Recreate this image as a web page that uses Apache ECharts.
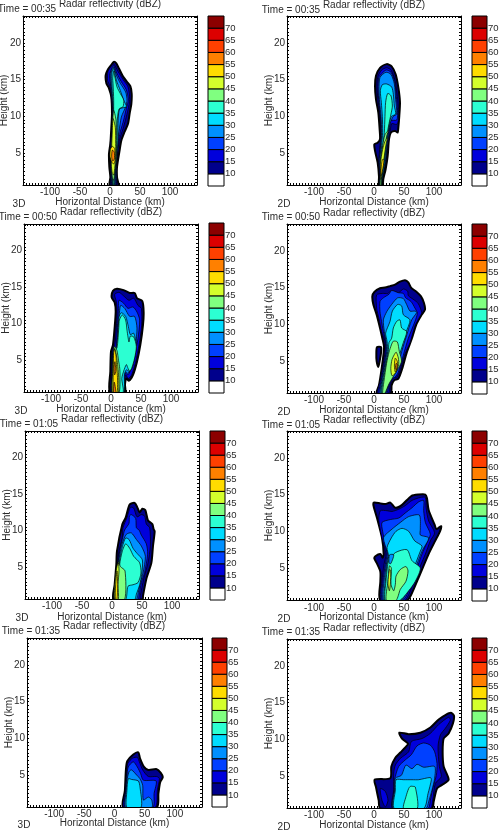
<!DOCTYPE html>
<html>
<head>
<meta charset="utf-8">
<title>Radar reflectivity cross sections</title>
<style>html,body{margin:0;padding:0;background:#fff}#chart{width:504px;height:833px}</style>
<script src="https://cdn.jsdelivr.net/npm/echarts@6/dist/echarts.min.js"></script>
</head>
<body>
<div id="chart"></div>
<script>
// Colour classes of the reflectivity scale (dBZ lower bound -> fill)
const levels = [5, 10, 15, 20, 25, 30, 35, 40, 45, 50, 55, 60, 65, 70];
const levelColors = ['#ffffff', '#00008c', '#0000dc', '#0040ff', '#0090ff', '#00dcff', '#2cffd2',
  '#80ff80', '#d4ff2c', '#ffdc00', '#ff8000', '#ff4000', '#dc0000', '#8c0000'];
const scaleLabels = [10, 15, 20, 25, 30, 35, 40, 45, 50, 55, 60, 65, 70];
const xTickLabels = [-100, -50, 0, 50, 100];
const yTickLabels = [5, 10, 15, 20];

// Filled contours: [dBZ level, [[distance km, height km], ...]], painted in order
const contours3D0035 = [
  [10, [[6.1,17.4],[10.6,17.2],[15,16.5],[20.6,15.6],[28.3,14.7],[33.9,14.1],[36.1,13.1],[35.6,11.7],[32.8,10.4],[30,9],[24.4,7.9],[18.9,6.7],[16.1,5.4],[11.7,3.1],[11.7,1.7],[13.9,0.6],[-0.6,0.6],[0.6,1.7],[-1.1,3.1],[-1.7,4.9],[0.6,6.3],[2.2,8.5],[3.3,10.4],[2.2,12.6],[-1.7,13.8],[-6.1,14.5],[-7.2,15.6],[-3.3,16.4],[2.2,17]]],
  [15, [[6.1,17.1],[13.3,16.1],[21.7,15],[30,14],[32.8,12.3],[30,10.9],[26.1,9.6],[21.7,8.3],[16.1,6.9],[13.3,5.5],[10.6,3.2],[10.6,0.6],[2.2,0.6],[1.1,3.2],[0,5.8],[3.3,8.5],[3.9,10.4],[2.2,12.6],[-0.6,14.2],[-3.9,14.9],[-3.3,16.1],[2.2,16.8]]],
  [20, [[6.1,16.9],[11.7,15.8],[18.9,14.7],[27.2,13.6],[30.6,12.2],[27.2,11.1],[22.8,9.5],[17.2,7.9],[13.3,6.3],[10.6,3.2],[9.4,0.6],[3.3,0.6],[2.2,3.2],[1.1,5.8],[3.9,8.5],[4.4,10.4],[3.3,12.6],[0.6,14.5],[-0.6,15.6],[2.8,16.5]]],
  [25, [[6.1,16.7],[10.6,15.6],[17.2,14.5],[26.1,13.3],[28.3,12.2],[26.1,11.3],[18.9,9.9],[15,7.9],[11.7,6.3],[9.4,3.2],[8.3,0.6],[3.9,0.6],[2.8,3.2],[1.7,5.8],[5,8.5],[5.6,10.4],[3.9,12.6],[1.7,14.5],[1.1,15.6],[3.3,16.4]]],
  [30, [[6.1,16.5],[10.6,14.9],[17.2,13.5],[22.8,12.2],[27.2,11.3],[16.1,11],[13.3,9],[13.3,6.7],[10.6,4],[8.3,2.2],[7.2,0.6],[4.4,0.6],[3.9,4],[2.8,5.8],[5.6,8.5],[6.1,10.4],[4.4,12.6],[2.8,14.9],[3.3,16]]],
  [35, [[6.5,16.2],[7.8,15.5],[11.7,14],[17.2,13.1],[22.8,12.2],[21.7,11.3],[15,11],[11.7,9],[11.7,6.7],[9.4,4],[7.2,2.2],[6.1,0.6],[5,0.6],[5,4],[3.3,5.8],[5.6,8.5],[6.1,12.2],[5,14.5],[4.5,15.2]]],
  [40, [[6.1,10.8],[10,9.5],[10.6,6.7],[10.6,4.5],[8.3,2.6],[6.1,1.3],[3.9,1.7],[2.2,3.5],[2.8,5.8],[3.9,8.5]]],
  [45, [[5,9.7],[8.9,8.5],[9.4,6.3],[9.4,4.5],[7.8,2.9],[6.1,2],[3.9,2.2],[2.2,3.5],[2.8,5.8],[3.9,8.1]]],
  [50, [[3.9,5.9],[7.8,5.6],[8.3,4],[6.1,3.5],[2.8,3.8],[0,4.5],[0.6,5.5]]],
  [55, [[3.9,5.4],[7.2,5.1],[7.2,4.2],[4.4,3.9],[2.8,4.5]]]
];

const contours2D0035 = [
  [10, [[21.1,17.1],[29.4,16.8],[36.1,15.7],[40.6,13.9],[43.3,11.9],[42.2,10.1],[40.6,8.5],[39.4,7.8],[35,8],[28.3,7.8],[25,6.9],[22.8,4.6],[19.4,2.8],[15.6,1.5],[13.9,0.6],[8.3,0.6],[8.3,1.8],[6.1,3.7],[1.7,5.3],[0.6,6.2],[6.1,6.4],[10,6.9],[9.4,8.2],[7.2,10.5],[3.3,12.3],[1.7,14.1],[3.3,15.5],[10,16.6]]],
  [15, [[21.1,16.6],[28.3,16.3],[35,14.9],[38.3,13.1],[40.6,11.3],[40.6,9.5],[37.8,8.9],[29.4,9],[26.7,7.7],[22.8,6],[20.6,4.1],[17.2,2.8],[13.9,1.5],[11.7,0.6],[9.4,0.6],[9.4,1.8],[7.8,3.7],[10,6],[11.7,7.8],[10,10.1],[7.2,11.9],[5,13.7],[6.1,15.3],[12.8,16.3]]],
  [20, [[20.5,16.3],[28.3,16],[34.5,14.7],[37.2,12.7],[39.2,10.8],[38,9.5],[28,9.4],[25,7.5],[21,5],[18.5,3.4],[13.4,1.5],[11.1,0.6],[9.7,0.6],[10,2],[8.6,3.7],[10.8,6],[12.2,7.8],[10.8,10],[8.3,11.9],[6.6,13.7],[8,15.3],[14,15.9]]],
  [25, [[20,16],[28.3,15.7],[33.9,14.4],[36.1,12.3],[37.8,10.3],[32.2,10],[26.7,9],[22.8,6.9],[19.4,4.1],[16.1,2.8],[12.8,1.5],[10.6,0.6],[10,0.6],[10.6,2.3],[9.4,3.7],[11.7,6],[12.8,7.8],[11.7,10],[9.4,11.9],[8.3,13.7],[10,15.3]]],
  [30, [[21.1,14.4],[29.4,14],[32.2,13],[33.9,11.4],[36.1,10.3],[29.4,10],[25,9],[22.2,6.9],[19.4,5],[17.2,3.2],[13.9,1.6],[11.1,0.6],[10.6,0.6],[11.1,2.3],[10.6,3.7],[12.8,6],[14.4,7.8],[13.9,10],[12.2,11.9],[10.6,13.5],[13.9,14.3]]],
  [35, [[22.8,13.1],[28.3,12.8],[30.6,11.4],[28.3,10.3],[25,9],[21.7,7.5],[18.3,5.3],[15.6,3.2],[12.8,1.6],[12.2,0.6],[9.6,0.6],[10.6,2.3],[11.1,3.7],[15,6],[17.2,7.8],[18.3,10],[19.4,11.9]]],
  [40, [[24.4,8.1],[21.1,7.3],[17.8,5.3],[15,3.2],[12.2,1.4],[11.7,0.6],[10,0.6],[11.1,2],[11.7,3.7],[14.4,6],[18.3,7.5]]],
  [45, [[22.8,7.1],[20.6,6.4],[17.2,4.6],[14.4,2.8],[11.7,1.4],[11.1,2.3],[10.6,3.5],[14.4,5.5],[18.3,6.6]]],
  [50, [[16.7,4.1],[13.9,2.5],[11.7,1.9],[11.7,2.8],[13.9,4.1]]]
];

const contours3D0050 = [
  [10, [[3.3,14.5],[10,14.8],[21.1,14.6],[31.1,14.2],[39.4,14.2],[43.3,13.5],[52.2,13.1],[54.4,11.6],[53.3,9.8],[48.9,7.1],[43.3,4.8],[36.7,3],[30,2.2],[25.6,2.5],[23.3,1.7],[23.3,0.6],[-1.7,0.6],[-1.1,3.5],[0,6.2],[3.3,7.1],[6.1,9.5],[7.8,11.7],[6.1,12.9],[1.1,13.6]]],
  [15, [[6.1,14],[13.3,14.3],[21.1,13.8],[30,13.2],[37.8,13.5],[45,12.5],[50.6,12.1],[51.1,9.8],[46.7,7.1],[41.1,4.8],[34.4,3],[28.9,2.5],[24.4,3],[21.1,1.6],[21.1,0.6],[0.6,0.6],[1.1,3.5],[1.7,6.2],[6.1,6.9],[8.9,9.5],[10,11.7],[8.9,13]]],
  [20, [[13.3,13.2],[21.1,12.8],[28.3,12.1],[36.7,12.3],[43.3,11.6],[47.8,10.5],[45,8],[39.4,5.7],[33.9,3.9],[28.3,3],[24.4,3.2],[20,2.5],[20,0.6],[1.7,0.6],[2.2,3.5],[3.3,6.2],[8.9,6.9],[10.6,9.5],[12.2,11.7]]],
  [25, [[16.1,12.5],[22.8,12.1],[31.1,11],[39.4,11],[43.3,9.4],[41.1,7.1],[36.7,4.8],[32.2,3.7],[28.3,3.2],[24.4,3.4],[21.1,2.8],[20.5,0.6],[2.5,0.6],[3,3.5],[4,6.2],[10,6.9],[12,9.5],[13.5,11]]],
  [30, [[17.2,11.5],[24.4,11],[28.9,9.6],[32.2,8.5],[37.8,8.7],[42.2,7.1],[39.4,5.3],[35,3.9],[30,3.5],[25.6,3.7],[22.2,3],[21.1,0.6],[2.2,0.6],[2.8,3.5],[4.4,6.2],[8.9,6.7],[12.2,9.5],[13.3,10.9]]],
  [35, [[18.9,11.2],[24.4,10.5],[26.7,9.1],[28.3,8.2],[30,7.5],[32.2,8.3],[37.8,8.2],[42.2,6.9],[39.4,5.3],[34.4,3.9],[31.1,3.5],[28.3,3.9],[25.6,4.4],[21.1,3.5],[18,2.5],[20,0.6],[3,0.6],[3,3.5],[5,6.2],[10,6.7],[13,9.5],[14,10.5]]],
  [40, [[6,6.9],[10,6.3],[12.5,5],[14.5,3.9],[15,2.9],[13.5,0.6],[3,0.6],[2.8,3.5],[3.5,6]]],
  [45, [[6.1,6.6],[8.9,5.7],[11,4.4],[12.6,3],[13,2.2],[12,0.6],[2.2,0.6],[2.8,3.5],[4.4,6]]],
  [50, [[6.1,6.5],[8.5,5.5],[9,4.4],[10.4,3.2],[11,2],[10,0.6],[4,0.6],[3.5,2.1],[4,4.4],[4.4,6]]],
  [55, [[5.5,2],[8,0.6],[4.5,0.6]]],
  [55, [[6.5,4.8],[8,3.5],[6,3],[5,4]]]
];

const contours2D0050 = [
  [10, [[0.6,14.4],[10,14.9],[18.3,15],[26.7,15.2],[35,15.4],[43.3,15.8],[51.7,16],[57.2,15.7],[61.7,15],[71.1,14.4],[78.3,13.8],[83.3,12.9],[85,12],[79.4,11.3],[71.1,10.1],[62.8,8],[54.4,6.1],[47.2,4],[40.6,2.6],[33.9,2.4],[29.4,1.7],[27.8,0.6],[4.4,0.6],[8.3,1.7],[12.8,4],[16.1,6.1],[16.7,7],[13.9,8.1],[10,9.5],[4.4,11.3],[-1.1,12.7],[-2.8,13.8]]],
  [10, [[5,6.9],[11.7,6.9],[11.7,6.1],[9.4,5],[7.2,4.2],[4.4,5],[3.9,6.1]]],
  [15, [[4.4,14],[13.9,14.2],[22.8,14.2],[29.4,14.6],[40.6,14.3],[48.9,14.8],[56.1,14.5],[57.2,13.9],[67.2,13.3],[73.9,12.8],[79.4,11.6],[76.7,11.1],[68.3,9.8],[60,7.5],[51.7,6],[43.3,3.7],[37.8,2.8],[32.2,2.8],[26.7,1.7],[23.9,0.6],[6.1,0.6],[10,2.2],[15.6,4.7],[18.3,6.3],[18.3,7.7],[12.8,9],[8.3,10.8],[4.4,12.2]]],
  [20, [[10,13.1],[15.6,13.6],[25,14.1],[29.4,14.6],[40.6,14.3],[48.9,14.2],[52.8,13.6],[61.7,13.1],[68.3,12.2],[72.2,11.5],[68.3,10.4],[57.2,8.1],[48.9,5.8],[40.6,3.5],[35,2.8],[29.4,2.6],[25,1.7],[21.1,0.6],[8.3,0.6],[11.7,2.2],[17.2,4.7],[20,6.3],[19.4,7.7],[15.6,9],[11.7,10.8],[10,11.7]]],
  [25, [[15.6,10.6],[21.1,11.7],[29.4,12.7],[39.4,13.6],[48.9,13.5],[54.4,12.7],[60,11.8],[68.3,11.8],[71.1,11.6],[62.8,10.6],[54.4,8.5],[46.1,6.3],[38.9,4],[33.9,3.2],[28.3,3],[23.9,1.9],[19.4,0.6],[10,0.6],[12.8,2.2],[18.3,4.7],[21.1,6.3],[20,7.7],[17.2,9]]],
  [30, [[26.7,10.4],[30.6,11.8],[39.4,12.7],[46.1,12.5],[48.9,11.3],[60,10.6],[52.8,8.8],[43.3,6.3],[36.1,4],[32.2,3.3],[26.7,3.1],[22.8,1.9],[18.3,0.6],[11.7,0.6],[13.9,2.2],[19.4,4.7],[22.8,6.3],[21.7,7.7],[19.4,8.8]]],
  [35, [[29.4,8.1],[32.2,9.5],[37.8,10.4],[43.3,10.6],[46.1,9.5],[54.4,9],[48.9,7.5],[43.3,6.1],[36.1,4.3],[30.6,3.6],[25,3.1],[21.1,1.9],[17.2,0.6],[12.8,0.6],[15,2.2],[20.6,4.7],[23.9,6.3],[25,7.5]]],
  [40, [[32.2,7.7],[38.9,7.6],[42.2,6.3],[46,5],[40.6,4],[33.9,3.1],[25,1.9],[18,0.6],[14.4,0.6],[16.5,2.2],[21,4.7],[25,6.2],[29,7.2]]],
  [45, [[34,5.9],[37,6.2],[40.6,5.4],[41,4.5],[36,3.4],[30,3],[28,4],[30,5.2]]],
  [50, [[35.5,5.4],[39,4.9],[38,3.9],[35.5,3.5],[34,4.3],[34.5,5]]],
  [55, [[37,4.7],[38.8,4.5],[37.2,3.8],[35.6,4]]]
];

const contours3D0105 = [
  [10, [[37.8,13.8],[41.7,13.3],[46.1,12.5],[50.6,13],[55.6,12.8],[60,11.4],[67.2,10.9],[69.4,10.2],[71.1,9.9],[68.3,7.9],[65.6,5.6],[57.2,3.4],[51.7,1.1],[50.6,0.6],[2.8,0.6],[4.4,2.6],[7.2,5.4],[8.3,7.2],[17.2,10.9],[22.8,11.8],[29.4,13.6]]],
  [15, [[36.1,13.1],[41.7,11.9],[48.9,12.2],[54.4,12],[57.2,10.9],[62.8,10.4],[63.9,7.9],[60,5.6],[52.8,3.4],[47.2,1.1],[46.1,0.6],[4.4,0.6],[6.1,2.6],[8.9,5.4],[11.7,7.2],[17.2,9],[18.3,10.4],[25,11.8],[30.6,13.2]]],
  [20, [[32.2,12.2],[39.4,11.7],[40.6,10.4],[45,10.1],[48.9,9.4],[57.2,8.2],[59.4,6.8],[54.4,4.3],[48.9,2.9],[45,1.1],[43.3,0.6],[6.1,0.6],[7.2,2.6],[10,5.4],[12.8,7.2],[18.3,9.2],[21.1,10.1],[28.3,11],[29,12]]],
  [25, [[23.9,9.5],[32.2,9.7],[40.6,8.8],[48.9,7.9],[55.6,6.5],[51.7,4.2],[47.2,2.9],[42.8,1.1],[40.6,0.6],[7.2,0.6],[8.3,2.6],[10.6,5.4],[13.9,7.2],[17.2,8.3]]],
  [30, [[22.8,9],[28.3,8.8],[35,7.6],[41.7,6.9],[50.6,6],[49.4,4],[46.1,2.6],[40.6,1.3],[37.8,0.6],[8.3,0.6],[9.4,2.6],[11.7,5.4],[15,7],[18.3,8.1]]],
  [35, [[22.8,8.2],[29.4,7.6],[36.1,6.5],[46.1,5.6],[48.3,4.2],[43.3,2.9],[35,2.6],[26.7,2.4],[22.8,0.6],[9.4,0.6],[10.6,2.6],[12.8,5.4],[17.2,7.2]]],
  [40, [[11.1,5.8],[13.9,5.1],[21.7,4.5],[21.1,0.6],[4.4,0.6],[3.3,1.3],[6.1,3.5],[8.3,4.9]]],
  [45, [[10.6,5.6],[11.7,4.5],[10,2.6],[10.6,0.6],[4.4,0.6],[4.4,2.2],[6.1,4],[8.3,5.1]]],
  [50, [[8.3,4.5],[9.4,2.6],[8.3,0.6],[5.6,0.6],[6.1,2.6]]]
];

const contours2D0105 = [
  [10, [[-0.6,13.9],[10.6,13.8],[18.9,13.7],[27.2,13.9],[35.6,13.2],[46.7,13.6],[62.2,14.8],[74.4,15],[85.6,15],[88.3,14.5],[91.1,12.9],[101,10.9],[104,10.3],[112,10.7],[110,10],[102,8.7],[91,6.9],[74.4,3.7],[62.2,1.4],[55,0.6],[10.6,0.6],[10.6,3.2],[10.6,4.5],[5,5.6],[0.6,6.3],[2.2,6.6],[10.6,6.9],[14.4,6.4],[16.1,6.9],[13.3,9.1],[5,11.8],[-0.6,13.4]]],
  [15, [[10.6,12.8],[21.7,12.8],[30,12.7],[41.1,13],[52.2,13.5],[63.3,14.2],[77.2,14.6],[85.6,14.6],[86.7,13.2],[91.1,11.4],[101,9.8],[93.9,8.7],[85.6,6.9],[68.9,3.7],[57.8,1.4],[51.1,0.6],[12.2,0.6],[13.3,3.2],[16.7,5.5],[20,6.9],[13.3,9.1],[8,11.5]]],
  [20, [[13.3,11.2],[27.2,11.6],[41.1,11.8],[52.2,12.5],[63.3,13.2],[74.4,14],[82.8,14.2],[82.8,12.8],[85.6,11.2],[93.9,9.6],[88.3,8.5],[80,6.9],[66.1,3.7],[55,1.4],[47.8,0.6],[14.4,0.6],[15,3.2],[18.9,5.5],[21.7,6.9],[18.9,8.2],[14.4,10]]],
  [25, [[16.1,9.2],[30,10.3],[43.9,11.2],[57.8,12],[75.6,12.2],[77.2,10.3],[77.2,9.5],[91.1,9.1],[80,7.3],[63.3,3.7],[52.2,1.4],[45.6,0.6],[16.1,0.6],[16.7,3.2],[20.6,5.5],[23.3,6.9],[18.9,8]]],
  [30, [[21.7,7.8],[28.9,9.1],[36.7,10],[46.7,10.4],[57.8,10],[67.8,8.7],[80,8],[77.2,7.3],[62.2,4.1],[51.1,1.6],[43.9,0.6],[17.8,0.6],[18.9,3.2],[21.7,5.5],[24.4,6.6]]],
  [35, [[24.4,6],[35.6,7.1],[55,7.5],[63.3,6],[77.2,5],[68.9,3.2],[57.8,1.9],[42.8,0.6],[18.9,0.6],[20,3.2],[22.2,5]]],
  [25, [[26,6.8],[33,6.8],[28,5.6],[25,5.7]]],
  [40, [[36.7,3.9],[43.9,4.8],[53.3,5.2],[56.7,4.6],[53.3,3.2],[43.9,2.1],[36.7,0.6],[20.6,0.6],[23.3,3.2],[25.6,5.3],[28.9,5],[28.3,2.8],[32.8,1.9],[35.6,2.8]]],
  [45, [[26.1,4.8],[27.8,4.6],[27.2,2.8],[25.6,1.9],[23.3,2.8],[24.4,4.1]]]
];

const contours3D0135 = [
  [10, [[39.4,8.1],[42.2,7.3],[48.9,6.1],[56.1,5.7],[70,5.8],[76.7,5.3],[80,4.7],[75.6,4],[72.8,2.5],[70,0.6],[14.4,0.6],[17.2,2.9],[18.9,5.7],[21.1,6.9],[31.1,7.8]]],
  [15, [[37.8,7.4],[41.1,6.8],[46.7,5.7],[56.1,4.8],[70,4.8],[74.4,4.5],[71.1,3],[67.2,0.6],[15.6,0.6],[17.8,2.9],[20,5.2],[22.2,6.6],[30,7.3]]],
  [20, [[31.1,6.8],[37.8,6.1],[43.3,5.2],[47.8,4.3],[68.9,4.2],[65.6,2.5],[63.3,0.6],[17.8,0.6],[18.9,2.9],[20.6,4.8],[22.8,6.1]]],
  [25, [[28.3,5.7],[36.7,5],[42.2,4.5],[46.7,3.6],[47.8,1.6],[56.1,2],[61.7,1.6],[61.7,0.6],[18.9,0.6],[19.4,2.9],[21.1,4.5],[24.4,5.5]]],
  [30, [[22.8,4.5],[28.3,4.4],[39.4,4.2],[42.2,3.4],[43.9,0.6],[20.6,0.6],[20.6,2.9]]]
];

const contours2D0135 = [
  [10, [[128.3,13.6],[133.3,13.2],[131.7,12.2],[124.4,10.8],[116.1,10.1],[114.4,8.3],[116.1,6.3],[124.4,4.5],[113.3,3.8],[105,3.3],[99.4,1.5],[96.7,0.6],[10.6,0.6],[7.8,1.7],[3.3,3.5],[1.1,4.5],[27.2,4.7],[28.9,6.3],[35.6,7.5],[43.9,8.2],[52.2,8.9],[56.7,9.4],[46.7,10.1],[42.2,10.9],[57.8,10.7],[77.2,10.9],[93.9,11.6],[107.8,12.7],[118.9,13.3]]],
  [15, [[10.6,3.3],[18.9,2.9],[23.3,1.7],[18.9,0.8],[13.3,1.7]]],
  [15, [[124.4,13],[127.2,12.6],[118.9,11.5],[110.6,10.6],[106.7,9],[108.9,6.3],[112.2,4.9],[102.2,4],[97.8,1.7],[93.9,0.6],[31.1,0.6],[32.8,3.1],[32.8,5.4],[35.6,6.5],[43.9,7.4],[57.8,8.3],[62.2,9.7],[80,10.1],[93.9,10.8],[107.8,12]]],
  [20, [[34.4,4.5],[41.1,6.3],[52.2,7.2],[62.2,7.9],[71.7,9.1],[82.8,9.5],[93.9,9.2],[101.1,8.3],[105,6.7],[103.9,5.1],[98.3,3.5],[93.9,1.7],[90,0.6],[32.2,0.6],[33.9,3.1]]],
  [25, [[35.6,4.7],[45.6,5.1],[53.3,6.5],[63.3,6],[71.7,6.6],[82.8,6.2],[101.1,6.3],[101.1,4.7],[96.7,3.1],[91.1,1.5],[86.7,0.6],[32.8,0.6],[34.4,3.1]]],
  [30, [[36.7,4.5],[49.4,4.5],[63.3,4.5],[74.4,4.5],[93.9,4.8],[95.6,4.5],[90,2.6],[82.8,0.6],[33.9,0.6],[35.6,3.1]]],
  [35, [[60.6,3.6],[64.4,3.6],[68.9,3.5],[72.2,0.6],[49.4,0.6],[53.3,2.2],[57.8,3.3]]]
];

const panelTimes = ['00:35', '00:35', '00:50', '00:50', '01:05', '01:05', '01:35', '01:35'];
const panelKinds = ['3D', '2D', '3D', '2D', '3D', '2D', '3D', '2D'];
const panelContours = [contours3D0035, contours2D0035, contours3D0050, contours2D0050,
  contours3D0105, contours2D0105, contours3D0135, contours2D0135];

// Pixel layout of each panel: frame, scale bar and free-standing labels
const layout = [
  { l: 23, r: 197, t: 16, b: 185, cl: 208, cr: 224, ct: 16, cb: 186, titleX: 110, titleY: 4, timeX: 27, timeY: 9, kindX: 19, kindY: 204, yName: 4.5, xTickY: 192, xNameY: 202 },
  { l: 287, r: 461, t: 16, b: 185, cl: 472, cr: 487, ct: 16, cb: 186, titleX: 374, titleY: 5, timeX: 291, timeY: 10, kindX: 284, kindY: 204, yName: 269, xTickY: 192, xNameY: 202 },
  { l: 24, r: 198, t: 224, b: 392, cl: 209, cr: 224, ct: 223, cb: 393, titleX: 111, titleY: 212, timeX: 28, timeY: 217, kindX: 21, kindY: 411, yName: 6, xTickY: 399, xNameY: 409 },
  { l: 287, r: 461, t: 224, b: 393, cl: 472, cr: 487, ct: 224, cb: 394, titleX: 374, titleY: 213, timeX: 291, timeY: 217, kindX: 284, kindY: 412, yName: 269, xTickY: 400, xNameY: 410 },
  { l: 25, r: 199, t: 431, b: 599, cl: 210, cr: 225, ct: 431, cb: 600, titleX: 112, titleY: 419, timeX: 29, timeY: 424, kindX: 22, kindY: 618, yName: 7, xTickY: 606, xNameY: 617 },
  { l: 287, r: 461, t: 431, b: 600, cl: 472, cr: 487, ct: 431, cb: 601, titleX: 374, titleY: 420, timeX: 291, timeY: 425, kindX: 284, kindY: 619, yName: 269, xTickY: 608, xNameY: 617 },
  { l: 27, r: 202, t: 638, b: 807, cl: 212, cr: 227, ct: 638, cb: 807, titleX: 114, titleY: 626, timeX: 31, timeY: 631, kindX: 24, kindY: 825, yName: 9, xTickY: 814, xNameY: 823 },
  { l: 287, r: 461, t: 639, b: 808, cl: 472, cr: 487, ct: 638, cb: 808, titleX: 374, titleY: 628, timeX: 291, timeY: 632, kindX: 284, kindY: 827, yName: 269, xTickY: 815, xNameY: 825 }
];

const FONT = '"Liberation Sans", Arial, sans-serif';
const INK = '#2b2b2b';
const X_MIN = -145, X_MAX = 145, Y_MIN = 0.65, Y_MAX = 23.65;

// Short inward ticks along the frame
const xMinorTicks = [];
for (let v = -140; v <= 140; v += 5) xMinorTicks.push(v);
const yMinorTicks = [];
for (let v = 1; v <= 23.5; v += 0.5) yMinorTicks.push(v);

const colorOf = lvl => levelColors[levels.indexOf(lvl)];

const grid = [], xAxis = [], yAxis = [], series = [], graphic = [];

function freeText(text, x, y) {
  graphic.push({
    type: 'text', x: x, y: y, silent: true,
    style: { text: text, font: '10px ' + FONT, fill: INK, textAlign: 'center', textVerticalAlign: 'middle' }
  });
}

layout.forEach((p, i) => {
  const gridIndex = grid.length;
  grid.push({ left: p.l, top: p.t, width: p.r - p.l, height: p.b - p.t, show: false, outerBoundsMode: 'none' });

  const frameLine = { show: true, onZero: false, lineStyle: { color: '#000', width: 1 } };
  xAxis.push({
    type: 'value', gridIndex, min: X_MIN, max: X_MAX, position: 'bottom',
    axisLine: frameLine, splitLine: { show: false },
    axisTick: { show: true, inside: true, length: 2, customValues: xMinorTicks, lineStyle: { color: '#000' } },
    axisLabel: { show: true, customValues: xTickLabels, margin: p.xTickY - p.b - 5, color: INK, fontFamily: FONT, fontSize: 10 },
    name: 'Horizontal Distance (km)', nameLocation: 'middle', nameGap: p.xNameY - p.b, nameMoveOverlap: false,
    nameTextStyle: { color: INK, fontFamily: FONT, fontSize: 10, verticalAlign: 'middle' }
  });
  xAxis.push({
    type: 'value', gridIndex, min: X_MIN, max: X_MAX, position: 'top',
    axisLine: frameLine, splitLine: { show: false },
    axisTick: { show: true, inside: true, length: 2, customValues: xMinorTicks, lineStyle: { color: '#000' } },
    axisLabel: { show: false }
  });
  yAxis.push({
    type: 'value', gridIndex, min: Y_MIN, max: Y_MAX, position: 'left',
    axisLine: frameLine, splitLine: { show: false },
    axisTick: { show: true, inside: true, length: 2, customValues: yMinorTicks, lineStyle: { color: '#000' } },
    axisLabel: { show: true, customValues: yTickLabels, margin: 2, color: INK, fontFamily: FONT, fontSize: 10 },
    name: 'Height (km)', nameLocation: 'middle', nameGap: p.l - p.yName, nameMoveOverlap: false,
    nameTextStyle: { color: INK, fontFamily: FONT, fontSize: 10, verticalAlign: 'middle' }
  });
  yAxis.push({
    type: 'value', gridIndex, min: Y_MIN, max: Y_MAX, position: 'right',
    axisLine: frameLine, splitLine: { show: false },
    axisTick: { show: true, inside: true, length: 2, customValues: yMinorTicks, lineStyle: { color: '#000' } },
    axisLabel: { show: false }
  });

  const polys = panelContours[i];
  series.push({
    type: 'custom', coordinateSystem: 'cartesian2d',
    xAxisIndex: xAxis.length - 2, yAxisIndex: yAxis.length - 2,
    silent: true, clip: true, animation: false,
    data: polys.map(c => [c[0]]),
    renderItem: (params, api) => {
      const c = polys[params.dataIndex];
      return {
        type: 'polygon',
        shape: { points: c[1].map(pt => api.coord(pt)), smooth: 0.25 },
        style: { fill: colorOf(c[0]), stroke: '#000', lineWidth: c[0] === 10 ? 2 : 0.7 }
      };
    }
  });

  // Reflectivity scale beside the frame
  const cbGrid = grid.length;
  grid.push({ left: p.cl, top: p.ct, width: p.cr - p.cl, height: p.cb - p.ct, show: false, outerBoundsMode: 'none' });
  xAxis.push({ type: 'value', gridIndex: cbGrid, min: 0, max: 1, show: false });
  yAxis.push({
    type: 'value', gridIndex: cbGrid, min: 5, max: 75, position: 'right',
    axisLine: { show: false }, axisTick: { show: false }, splitLine: { show: false },
    axisLabel: { show: true, customValues: scaleLabels, margin: 1, color: INK, fontFamily: FONT, fontSize: 9.5 }
  });
  series.push({
    type: 'custom', coordinateSystem: 'cartesian2d',
    xAxisIndex: xAxis.length - 1, yAxisIndex: yAxis.length - 1,
    silent: true, clip: false, animation: false,
    data: levels.map(l => [l]),
    renderItem: (params, api) => {
      const lo = levels[params.dataIndex];
      const a = api.coord([0, lo]), b = api.coord([1, lo + 5]);
      return {
        type: 'rect',
        shape: { x: a[0], y: b[1], width: b[0] - a[0], height: a[1] - b[1] },
        style: { fill: colorOf(lo), stroke: '#000', lineWidth: 1 }
      };
    }
  });

  freeText('Radar reflectivity (dBZ)', p.titleX, p.titleY);
  freeText('Time = ' + panelTimes[i], p.timeX, p.timeY);
  freeText(panelKinds[i], p.kindX, p.kindY);
});

const chart = echarts.init(document.getElementById('chart'), null, { renderer: 'canvas' });
chart.setOption({ animation: false, backgroundColor: '#fff', grid, xAxis, yAxis, series, graphic });
</script>
</body>
</html>
